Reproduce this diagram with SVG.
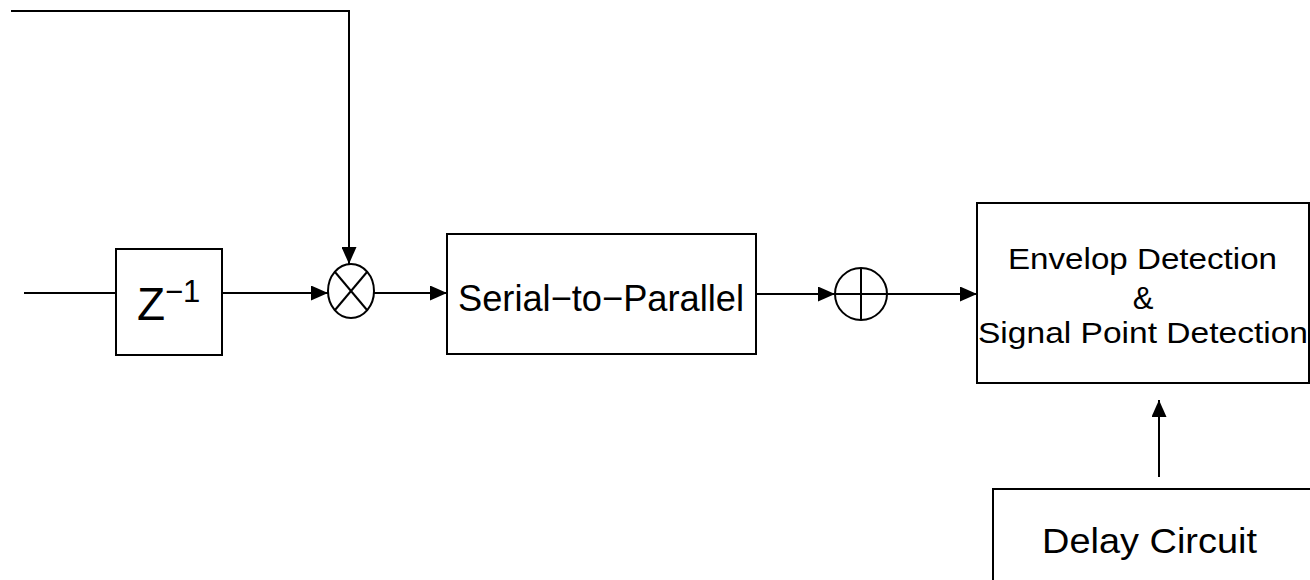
<svg xmlns="http://www.w3.org/2000/svg" width="1310" height="580" viewBox="0 0 1310 580">
<style>
.box{fill:#fff;stroke:#000;stroke-width:2}
.ln{fill:none;stroke:#000;stroke-width:2}
.t{font-family:"Liberation Sans",Arial,sans-serif;fill:#000}
</style>
<defs>
<marker id="ah" viewBox="0 0 17 15" refX="17" refY="7.5" markerWidth="17" markerHeight="15" markerUnits="userSpaceOnUse" orient="auto">
<path d="M0,0 L17,7.5 L0,15 Z" fill="#000"/>
</marker>
</defs>
<rect width="1310" height="580" fill="#fff"/>
<g id="connectors">
<polyline class="ln" points="11,11 349,11 349,264" marker-end="url(#ah)"/>
<line class="ln" x1="24" y1="293" x2="116" y2="293"/>
<line class="ln" x1="222" y1="293" x2="328" y2="293" marker-end="url(#ah)"/>
<line class="ln" x1="374" y1="293" x2="447" y2="293" marker-end="url(#ah)"/>
<line class="ln" x1="756" y1="294" x2="835" y2="294" marker-end="url(#ah)"/>
<line class="ln" x1="887" y1="294" x2="977" y2="294" marker-end="url(#ah)"/>
<line class="ln" x1="1159" y1="477" x2="1159" y2="400" marker-end="url(#ah)"/>
</g>
<g id="delay-z">
<rect class="box" x="116" y="249" width="106" height="106"/>
<text class="t" x="137" y="320" font-size="46">Z</text>
<text class="t" x="165" y="302" font-size="31">−1</text>
</g>
<g id="multiplier">
<ellipse class="box" cx="351" cy="291" rx="23" ry="27"/>
<line class="ln" x1="335" y1="272" x2="367" y2="310" stroke-width="1.5"/>
<line class="ln" x1="367" y1="272" x2="335" y2="310" stroke-width="1.5"/>
</g>
<g id="s2p">
<rect class="box" x="447" y="234" width="309" height="120"/>
<text class="t" x="458" y="311" font-size="37" textLength="286" lengthAdjust="spacingAndGlyphs">Serial−to−Parallel</text>
</g>
<g id="adder">
<circle class="box" cx="861" cy="294" r="26"/>
<line class="ln" x1="835" y1="294" x2="887" y2="294" stroke-width="1.5"/>
<line class="ln" x1="861" y1="268" x2="861" y2="320" stroke-width="1.5"/>
</g>
<g id="envelope">
<rect class="box" x="977" y="203" width="332" height="180"/>
<text class="t" x="1008" y="269" font-size="29" textLength="269" lengthAdjust="spacingAndGlyphs">Envelop Detection</text>
<text class="t" x="1143" y="309" font-size="31" text-anchor="middle">&amp;</text>
<text class="t" x="978" y="343" font-size="29" textLength="330" lengthAdjust="spacingAndGlyphs">Signal Point Detection</text>
</g>
<g id="delay-circuit">
<rect class="box" x="993" y="489" width="330" height="110"/>
<text class="t" x="1042" y="553" font-size="35" textLength="215" lengthAdjust="spacingAndGlyphs">Delay Circuit</text>
</g>
</svg>
